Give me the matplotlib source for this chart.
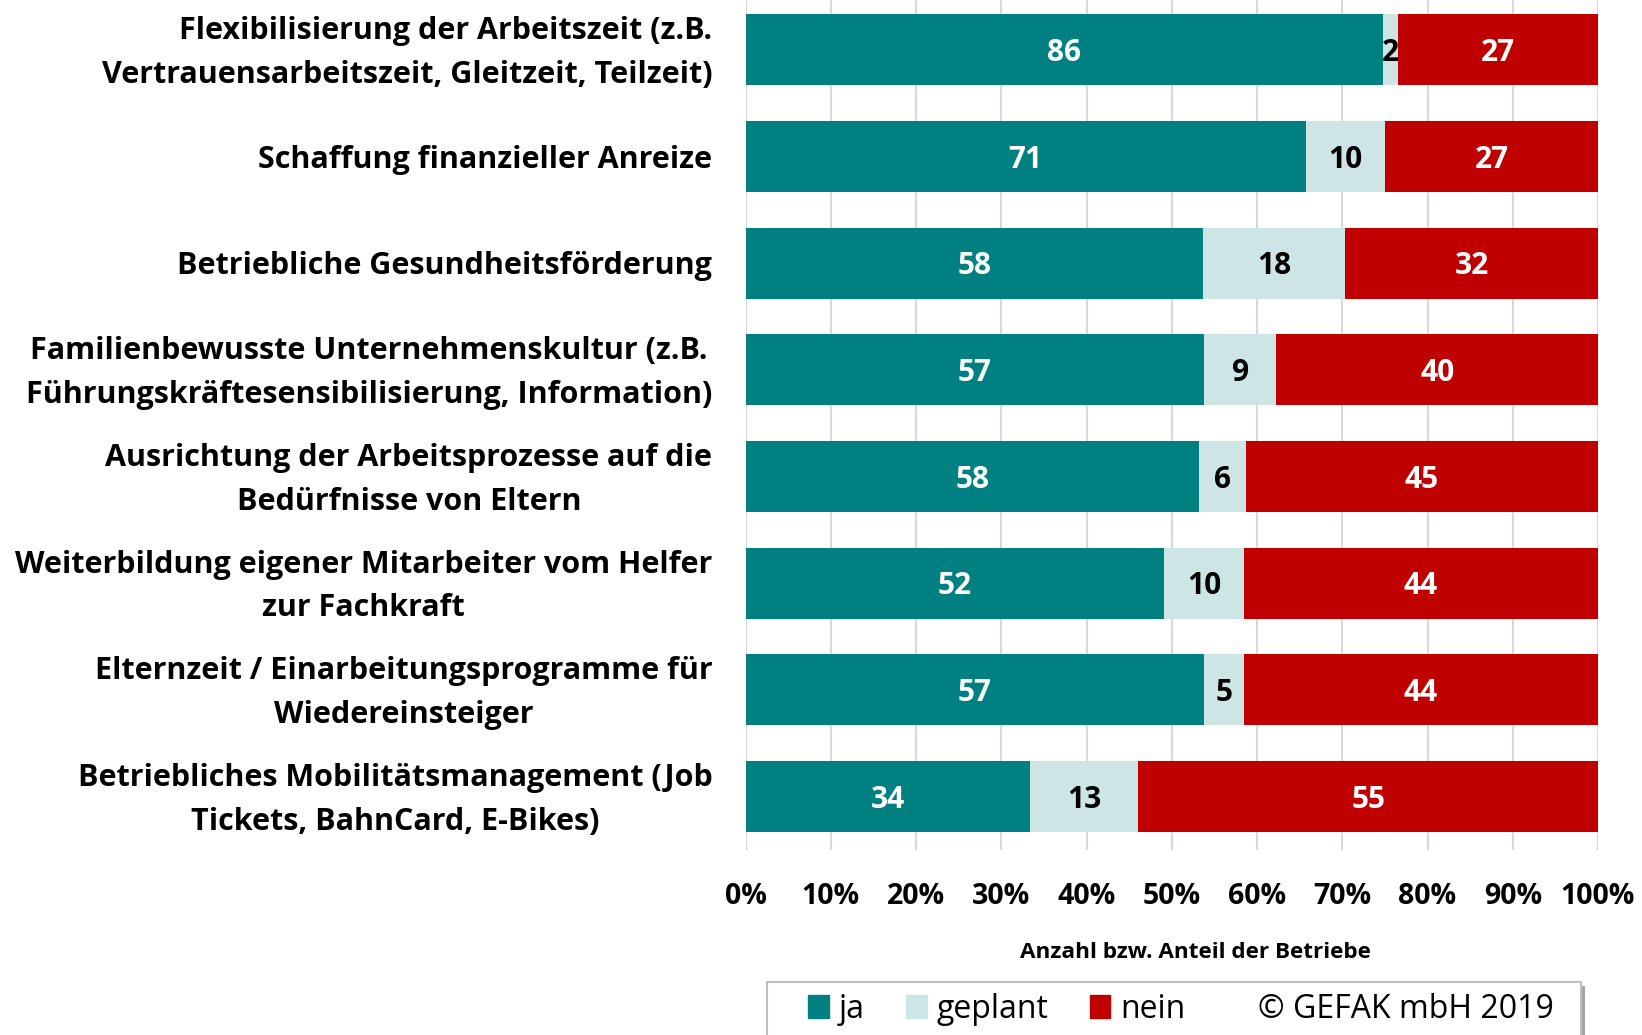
import matplotlib
matplotlib.use("Agg")
import matplotlib.pyplot as plt
from matplotlib.patches import Patch, Rectangle
import numpy as np

plt.rcParams["font.family"] = ["Open Sans", "DejaVu Sans"]

categories = [
    "Flexibilisierung der Arbeitszeit (z.B.\nVertrauensarbeitszeit, Gleitzeit, Teilzeit)",
    "Schaffung finanzieller Anreize",
    "Betriebliche Gesundheitsförderung",
    "Familienbewusste Unternehmenskultur (z.B.\nFührungskräftesensibilisierung, Information)",
    "Ausrichtung der Arbeitsprozesse auf die\nBedürfnisse von Eltern",
    "Weiterbildung eigener Mitarbeiter vom Helfer\nzur Fachkraft",
    "Elternzeit / Einarbeitungsprogramme für\nWiedereinsteiger",
    "Betriebliches Mobilitätsmanagement (Job\nTickets, BahnCard, E-Bikes)",
]
ja = [86, 71, 58, 57, 58, 52, 57, 34]
geplant = [2, 10, 18, 9, 6, 10, 5, 13]
nein = [27, 27, 32, 40, 45, 44, 44, 55]
series_names = ["ja", "geplant", "nein"]
colors = ["#008080", "#CDE5E5", "#C00000"]
text_colors = ["white", "black", "white"]
xticks = [0, 10, 20, 30, 40, 50, 60, 70, 80, 90, 100]

counts = np.array([ja, geplant, nein], dtype=float)
shares = counts / counts.sum(axis=0) * 100

W, H = 1642, 1035
fig = plt.figure(figsize=(W / 100, H / 100), dpi=100)
ax = fig.add_axes([0.4541, 0.1787, 0.5191, 0.8213])

y = np.arange(len(categories))
left = np.zeros(len(categories))
for i in range(3):
    bars = ax.barh(y, shares[i], left=left, height=0.665, color=colors[i], zorder=3)
    for j, b in enumerate(bars):
        cx = left[j] + shares[i][j] / 2
        ax.text(cx, y[j] + 0.03, f"{int(counts[i][j])}", ha="center", va="center",
                color=text_colors[i], fontsize=21.5, fontweight="bold", zorder=4)
    left += shares[i]

ax.set_xlim(0, 100)
ax.set_ylim(7.5, -0.465)
ax.set_xticks(xticks)
ax.set_xticklabels([f"{t}%" for t in xticks], fontsize=20.5, fontweight="bold")
# ticks are invisible; nudge label anchor a few pixels down
ax.set_yticks(y + 0.03)
ax.set_yticklabels(categories, fontsize=22, fontweight="bold",
                   multialignment="center", linespacing=1.6, va="center")
# first label is right-aligned in the original
ax.get_yticklabels()[0].set_multialignment("right")
ax.tick_params(axis="x", length=0, pad=23)
ax.tick_params(axis="y", length=0, pad=24)
ax.grid(axis="x", color="#D9D9D9", linewidth=1.5, zorder=0)
for s in ax.spines.values():
    s.set_visible(False)

fig.text(1195 / W, 1 - 952 / H, "Anzahl bzw. Anteil der Betriebe",
         ha="center", va="center", fontsize=16.2, fontweight="bold")

# legend box drawn by hand (bottom edge runs off the figure)
bx0, bx1, by0 = 767, 1581, 982
fig.patches.append(Rectangle((bx0 / W + 4 / W, -0.05), (bx1 - bx0) / W, 1 - by0 / H + 0.05 - 4 / H,
                             transform=fig.transFigure, facecolor="#A6A6A6", edgecolor="none", zorder=1))
fig.patches.append(Rectangle((bx0 / W, -0.05), (bx1 - bx0) / W, 1 - by0 / H + 0.05,
                             transform=fig.transFigure, facecolor="white", edgecolor="#BFBFBF",
                             linewidth=1.5, zorder=2))

handles = [Patch(color=c) for c in colors] + [Patch(color="none")]
labels = series_names + ["© GEFAK mbH 2019"]
leg = fig.legend(handles, labels, ncol=4, loc="center left",
                 bbox_to_anchor=(808 / W, 1 - 1009 / H), borderaxespad=0, borderpad=0,
                 fontsize=23, frameon=False,
                 handlelength=0.65, handleheight=0.7, handletextpad=0.32,
                 columnspacing=1.28)
leg.set_zorder(3)

fig.savefig("out.png", dpi=100)
